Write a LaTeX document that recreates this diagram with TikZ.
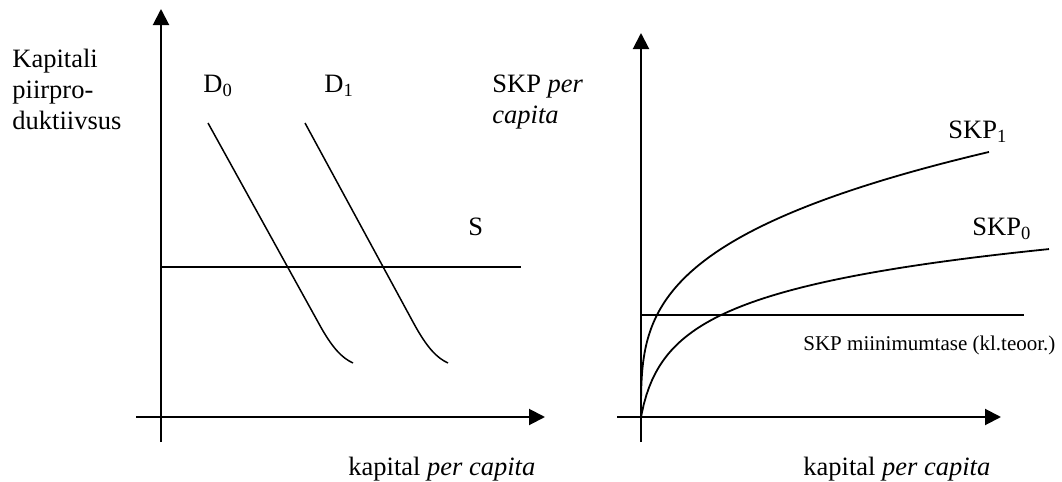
\documentclass[tikz,border=0pt]{standalone}
\usepackage{fontspec}
\setmainfont{Liberation Serif}
\usepackage{tikz}
\usetikzlibrary{arrows.meta, calc}

\begin{document}
\begin{tikzpicture}[
        x=0.5pt, y=-0.5pt,
        >={Triangle[length=8pt, width=8pt]}, % Arrowhead style
        axis/.style={->, line width=1pt},
        level/.style={line width=0.7pt},
        curve/.style={line width=0.9pt},
        demand/.style={line width=0.75pt},
        lbl/.style={anchor=base west, inner sep=0pt, font=\fontsize{13.25}{15.5}\selectfont},
        small/.style={anchor=base west, inner sep=0pt, font=\fontsize{10.5}{12.5}\selectfont}
    ]
    \useasboundingbox (0,0) rectangle (1062,482);

    % ==========================================
    % Left panel: axes
    % ==========================================
    \coordinate (L0) at (161,417);
    \coordinate (Ltop) at (161,9);
    \coordinate (Lbot) at (161,442);
    \coordinate (Lleft) at (136,417);
    \coordinate (Lright) at (545,417);

    \draw[line width=1pt] (Lbot) -- (L0);
    \draw[axis] (L0) -- (Ltop);
    \draw[axis] (Lleft) -- (Lright);

    % Supply line S
    \coordinate (S0) at (161,267);
    \coordinate (S1) at (521,267);
    \draw[level] (S0) -- (S1);

    % Demand curves D0 and D1
    \draw[demand] (208,123) -- (318,322) .. controls (332,348) and (342,358) .. (353,363);
    \draw[demand] (305,123) -- (413,322) .. controls (427,348) and (437,358) .. (448,363);

    % Labels (multi-line nodes: base = last line)
    \node[lbl, align=left] (ylab) at (12,129) {Kapitali\\piirpro-\\duktiivsus};
    \node[lbl] (d0) at (203,92) {D\textsubscript{0}};
    \node[lbl] (d1) at (324,92) {D\textsubscript{1}};
    \node[lbl] (s) at (468,235) {S};
    \node[lbl] (xlabL) at (348,475) {kapital \textit{per capita}};

    % ==========================================
    % Right panel: axes
    % ==========================================
    \coordinate (R0) at (641,417);
    \coordinate (Rtop) at (641,33);
    \coordinate (Rbot) at (641,442);
    \coordinate (Rleft) at (617,417);
    \coordinate (Rright) at (1001,417);

    \draw[line width=1pt] (Rbot) -- (R0);
    \draw[axis] (R0) -- (Rtop);
    \draw[axis] (Rleft) -- (Rright);

    % Minimum level
    \coordinate (M0) at (641,315);
    \coordinate (M1) at (1024,315);
    \draw[level] (M0) -- (M1);

    % Output curves SKP1 and SKP0
    \draw[curve] (R0) -- plot[domain=0.05:7.035, samples=120, variable=\t]
        ({641+\t*\t*\t}, {417-43.2*pow(\t,0.93)});
    \draw[curve] plot[domain=0:408, samples=150, variable=\t]
        ({641+\t}, {417-42.5*ln(1+\t/8)});

    % Labels
    \node[lbl, align=left] (ylabR) at (492,123) {SKP \textit{per}\\\textit{capita}};
    \node[lbl] (skp1) at (948,138) {SKP\textsubscript{1}};
    \node[lbl] (skp0) at (972,235) {SKP\textsubscript{0}};
    \node[small] (minlab) at (803,350) {SKP miinimumtase (kl.teoor.)};
    \node[lbl] (xlabR) at (803,475) {kapital \textit{per capita}};

\end{tikzpicture}
\end{document}
